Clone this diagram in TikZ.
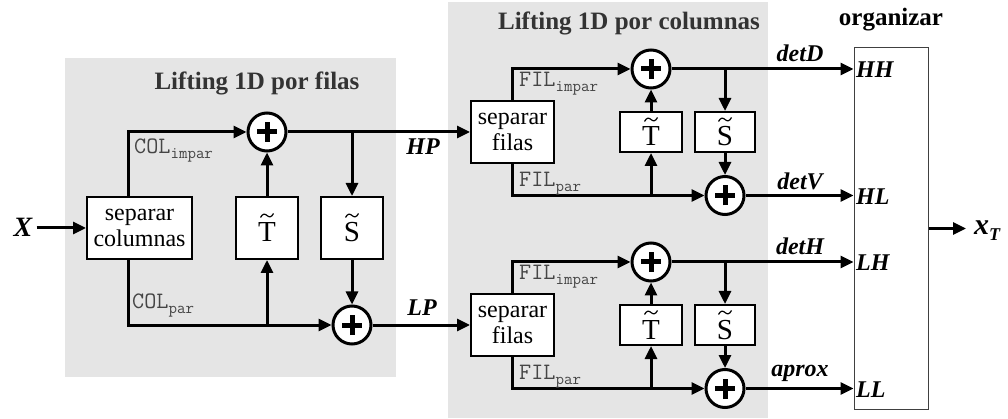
\documentclass[tikz,border=0pt]{standalone}
\usepackage{fontspec}
\setmainfont{Liberation Serif}
\usetikzlibrary{arrows.meta}
\definecolor{bggray}{gray}{0.9}
\definecolor{txtgray}{gray}{0.2}
\definecolor{mongray}{gray}{0.27}
\newcommand\optxt[1]{\raisebox{0pt}[28pt][0pt]{#1}}
\newcommand\msub[2]{{\ttfamily\fontsize{23.5}{23.5}\selectfont #1\raisebox{-5pt}{\fontsize{16.5}{16.5}\selectfont #2}}}
\tikzset{
 arr/.style={line width=3pt,-{Triangle[length=13pt,width=12pt]}},
 blk/.style={draw,line width=2pt,fill=white,inner sep=0pt,align=center,font=\fontsize{24}{26}\selectfont},
 opblk/.style={blk,font=\fontsize{29}{29}\selectfont,
   path picture={\draw[line width=1.2pt]
     ([xshift=-6.5pt,yshift=10.5pt]path picture bounding box.center)
     .. controls ([xshift=-4.5pt,yshift=14.5pt]path picture bounding box.center) and ([xshift=-2pt,yshift=14.5pt]path picture bounding box.center)
     .. ([xshift=0pt,yshift=12.5pt]path picture bounding box.center)
     .. controls ([xshift=2pt,yshift=10.5pt]path picture bounding box.center) and ([xshift=4.5pt,yshift=10.5pt]path picture bounding box.center)
     .. ([xshift=6.5pt,yshift=14.5pt]path picture bounding box.center);}},
 adder/.style={circle,draw,line width=3pt,fill=white,minimum size=38pt,inner sep=0pt,
   path picture={\draw[line width=5pt]
     ([xshift=-10pt]path picture bounding box.center) -- ([xshift=10pt]path picture bounding box.center)
     ([yshift=-10pt]path picture bounding box.center) -- ([yshift=10pt]path picture bounding box.center);}},
 ttl/.style={font=\bfseries\fontsize{25}{25}\selectfont,text=txtgray,inner sep=0pt},
 sig/.style={font=\bfseries\itshape\fontsize{24}{24}\selectfont,inner sep=0pt},
 mon/.style={text=mongray,inner sep=0pt,anchor=west},
}
\begin{document}
\begin{tikzpicture}[x=1pt,y=-1pt]
\useasboundingbox (0,0) rectangle (1008,419);
% backgrounds
\fill[bggray] (65,58) rectangle (396,377);
\fill[bggray] (448,2) rectangle (768,418);
% titles
\node[ttl] (t1) at (257,83) {Lifting 1D por filas};
\node[ttl] (t2) at (629,23) {Lifting 1D por columnas};
\node[ttl,text=black] (t3) at (891,20) {organizar};
% left stage
\node[font=\bfseries\itshape\fontsize{28}{28}\selectfont,inner sep=0pt,anchor=base] (X) at (23,237) {X};
\node[blk,minimum width=105pt,minimum height=62pt] (sepC) at (139.5,228) {separar\\columnas};
\node[opblk,minimum width=62pt,minimum height=62pt] (T1) at (267,228) {\optxt{T}};
\node[opblk,minimum width=62pt,minimum height=62pt] (S1) at (352,228) {\optxt{S}};
\node[adder] (P1) at (267,132) {};
\node[adder] (P2) at (352,325) {};
\draw[arr,shorten <=4pt] (X.east |- sepC) -- (sepC);
\draw[arr] ([xshift=-11.5pt]sepC.north) |- (P1);
\draw[arr] ([xshift=-11.5pt]sepC.south) |- (P2);
\draw[arr] (T1 |- P2) -- (T1);
\draw[arr] (T1) -- (P1);
\draw[arr] (S1 |- P1) -- (S1);
\draw[arr] (S1) -- (P2);
\node[mon] (ci) at (134,151) {\msub{COL}{impar}};
\node[mon] (cp) at (132,306) {\msub{COL}{par}};
% right top stage
\node[blk,minimum width=83pt,minimum height=62pt] (sepF1) at (512.5,132) {separar\\filas};
\node[opblk,minimum width=62pt,minimum height=40pt] (T2) at (651,132) {\optxt{T}};
\node[opblk,minimum width=60pt,minimum height=40pt] (S2) at (725,132) {\optxt{S}};
\node[adder] (P3) at (651,69) {};
\node[adder] (P4) at (725,195.5) {};
% right bottom stage
\node[blk,minimum width=83pt,minimum height=62pt] (sepF2) at (512.5,325) {separar\\filas};
\node[opblk,minimum width=62pt,minimum height=40pt] (T3) at (651,325) {\optxt{T}};
\node[opblk,minimum width=60pt,minimum height=40pt] (S3) at (725,325) {\optxt{S}};
\node[adder] (P5) at (651,262) {};
\node[adder] (P6) at (725,388.5) {};
% organizar
\node[draw=black!75,line width=1pt,minimum width=74pt,minimum height=361pt,inner sep=0pt] (org) at (891,228.5) {};
% links between stages
\draw[arr] (P1) -- (sepF1);
\draw[arr] (P2) -- (sepF2);
\node[sig] (HP) at (423,147) {HP};
\node[sig] (LP) at (422,308) {LP};
% top right internals
\draw[arr] (sepF1.north) |- (P3);
\draw[arr] (sepF1.south) |- (P4);
\draw[arr] (T2 |- P4) -- (T2);
\draw[arr] (T2) -- (P3);
\draw[arr] (S2 |- P3) -- (S2);
\draw[arr] (S2) -- (P4);
\node[mon] (fi1) at (519,84) {\msub{FIL}{impar}};
\node[mon] (fp1) at (519,184) {\msub{FIL}{par}};
% bottom right internals
\draw[arr] (sepF2.north) |- (P5);
\draw[arr] (sepF2.south) |- (P6);
\draw[arr] (T3 |- P6) -- (T3);
\draw[arr] (T3) -- (P5);
\draw[arr] (S3 |- P5) -- (S3);
\draw[arr] (S3) -- (P6);
\node[mon] (fi2) at (519,277) {\msub{FIL}{impar}};
\node[mon] (fp2) at (519,377) {\msub{FIL}{par}};
% outputs
\draw[arr] (P3) -- (P3 -| org.west);
\draw[arr] (P4) -- (P4 -| org.west);
\draw[arr] (P5) -- (P5 -| org.west);
\draw[arr] (P6) -- (P6 -| org.west);
\node[sig] (dD) at (800,53) {detD};
\node[sig] (dV) at (800,181) {detV};
\node[sig] (dH) at (800,246) {detH};
\node[sig] (ap) at (800,373) {aprox};
\node[sig,anchor=west] (HH) at (856,70) {HH};
\node[sig,anchor=west] (HL) at (856,197) {HL};
\node[sig,anchor=west] (LH) at (856,263) {LH};
\node[sig,anchor=west] (LL) at (856,390) {LL};
% final output
\node[font=\bfseries\itshape\fontsize{30}{30}\selectfont,inner sep=0pt,anchor=base west] (xT) at (974,235) {x\raisebox{-6pt}{\fontsize{18}{18}\selectfont T}};
\draw[arr] (org.east) -- ([xshift=-8pt]org.east -| xT.west);
\end{tikzpicture}
\end{document}
